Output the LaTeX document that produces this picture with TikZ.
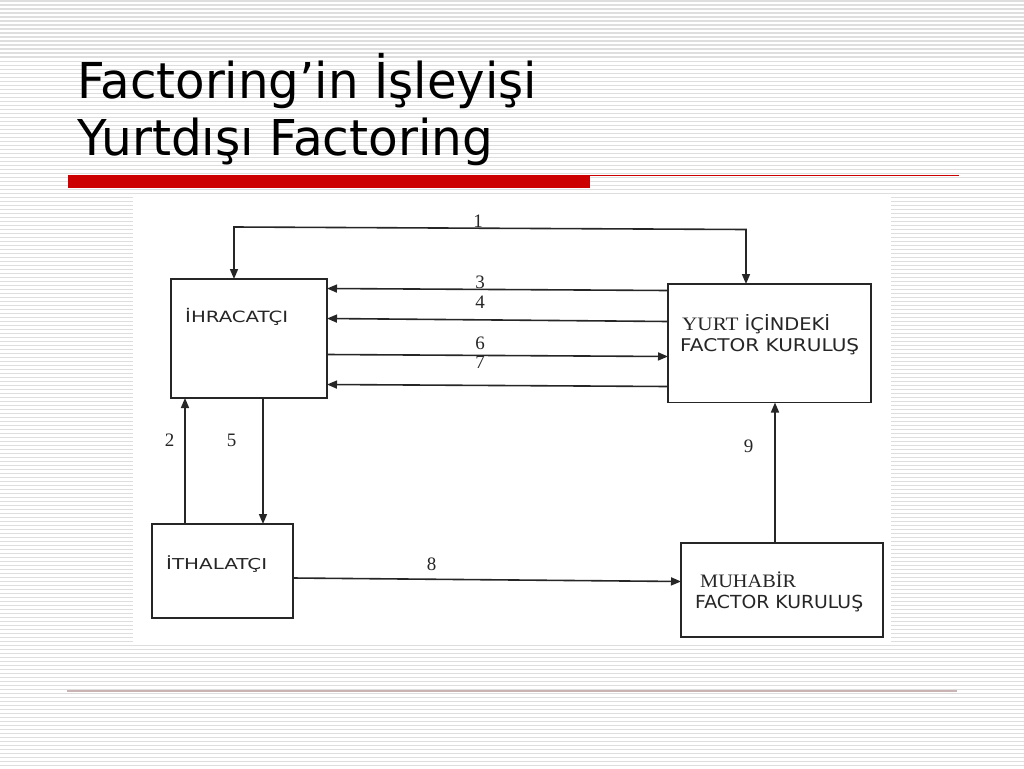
\documentclass[tikz,border=0pt]{standalone}
\usepackage{fontspec}
\usepackage{graphicx}
\usetikzlibrary{arrows.meta}
\newfontfamily\ttlfont{DejaVu Sans}
\newfontfamily\boxsans{DejaVu Sans}
\newfontfamily\boxserif{Liberation Serif}
\newcommand\fitw[2]{\resizebox{#1}{\height}{#2}}
\definecolor{stripe}{HTML}{DEDEDE}
\definecolor{redbar}{HTML}{CC0000}
\definecolor{ink}{HTML}{262626}
\definecolor{footline}{HTML}{C9B3B3}
\begin{document}
\begin{tikzpicture}[x=1pt,y=-1pt,
  box/.style={draw=ink,line width=1.7pt,inner sep=0pt,outer sep=0pt},
  conn/.style={draw=ink,line width=1.6pt},
  tip/.style={-{Triangle[length=10pt,width=8pt]}},
  num/.style={inner sep=0pt,font=\boxserif\fontsize{19}{19}\selectfont,text=ink},
  lbl/.style={inner sep=0pt,anchor=base west,text=ink},
  ttl/.style={inner sep=0pt,anchor=base west,text=black}]
\useasboundingbox (0,0) rectangle (1024,768);
\fill[white] (0,0) rectangle (1024,768);
\foreach \i in {0,...,191} {
  \fill[stripe] (0,{\i*4+0.5}) rectangle (1024,{\i*4+2});
}
% white picture area
\fill[white] (133,196) rectangle (891,642);
% title
\node[ttl] (t1) at (77,98) {\fitw{460pt}{\ttlfont\fontsize{49.4}{50}\selectfont Factoring’in İşleyişi}};
\node[ttl] (t2) at (77,155.5) {\fitw{416pt}{\ttlfont\fontsize{49.4}{50}\selectfont Yurtdışı Factoring}};
% red bar
\fill[redbar] (68,175) rectangle (590,187.5);
\fill[redbar] (590,174.5) rectangle (959,176.2);
% footer line
\draw[footline,line width=1.6pt] (67,691) -- (957,691);
% boxes
\node[box,minimum width=156pt,minimum height=119pt] (ihr) at (249,338.5) {};
\node[box,minimum width=203pt,minimum height=118.5pt] (yurt) at (769.5,343.25) {};
\node[box,minimum width=141pt,minimum height=94pt] (ith) at (222.5,571) {};
\node[box,minimum width=202pt,minimum height=94pt] (muh) at (782,590) {};
% box texts
\node[lbl] (ihrtxt) at (185,322.5) {\fitw{103pt}{\boxsans\fontsize{15.5}{15}\selectfont İHRACATÇI}};
\node[lbl] (yurttxt1) at (682,330.5) {\fitw{148pt}{\boxserif\fontsize{19}{18}\selectfont YURT\boxsans\fontsize{17.5}{17}\selectfont{} İÇİNDEKİ}};
\node[lbl] (yurttxt2) at (680,351) {\fitw{179pt}{\boxsans\fontsize{17.5}{17}\selectfont FACTOR KURULUŞ}};
\node[lbl] (ithtxt) at (166,569.5) {\fitw{101pt}{\boxsans\fontsize{15}{15}\selectfont İTHALATÇI}};
\node[lbl] (muhtxt1) at (700,587) {\fitw{96pt}{\boxserif\fontsize{19}{18}\selectfont MUHABİR}};
\node[lbl] (muhtxt2) at (695,608.5) {\fitw{168pt}{\boxsans\fontsize{18}{18}\selectfont FACTOR KURULUŞ}};
% connector 1
\coordinate (c1l) at (234,227);
\coordinate (c1r) at (746,229.5);
\draw[conn,{Triangle[length=10pt,width=8pt]}-{Triangle[length=10pt,width=8pt]}] (ihr.north -| c1l) -- (c1l) -- (c1r) -- (yurt.north -| c1r);
% connectors 3,4,6,7
\draw[conn,tip] (yurt.west |- 0,290.5) -- (ihr.east |- 0,288.5);
\draw[conn,tip] (yurt.west |- 0,321.5) -- (ihr.east |- 0,318.5);
\draw[conn,tip] (ihr.east |- 0,354.5) -- (yurt.west |- 0,356.5);
\draw[conn,tip] (yurt.west |- 0,386.5) -- (ihr.east |- 0,384.5);
% connectors 2,5
\draw[conn,tip] (ith.north -| 185,0) -- (ihr.south -| 185,0);
\draw[conn,tip] (ihr.south -| 263,0) -- (ith.north -| 263,0);
% connector 8
\draw[conn,tip] (ith.east |- 0,578) -- (muh.west |- 0,581.5);
% connector 9
\draw[conn,tip] (muh.north -| 775,0) -- (yurt.south -| 775,0);
% numbers
\node[num] (n1) at (478,221) {1};
\node[num] (n3) at (480,282.5) {3};
\node[num] (n4) at (480,302.5) {4};
\node[num] (n6) at (480,343) {6};
\node[num] (n7) at (480,362.5) {7};
\node[num] (n2) at (169.5,440.5) {2};
\node[num] (n5) at (231.7,440.5) {5};
\node[num] (n8) at (431.7,564.5) {8};
\node[num] (n9) at (748.5,446.5) {9};
\end{tikzpicture}
\end{document}
